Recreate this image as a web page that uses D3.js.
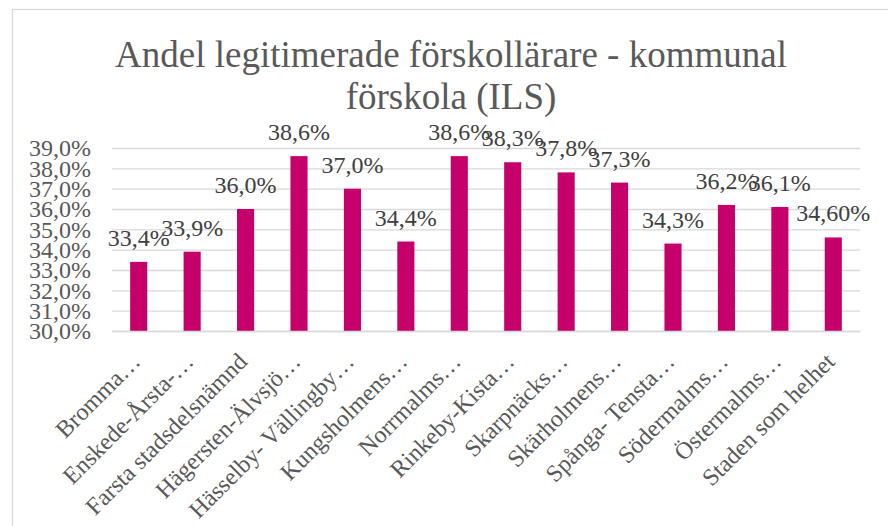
<!DOCTYPE html>
<html>
<head>
  <meta charset="UTF-8">
  <title>Andel legitimerade förskollärare - kommunal förskola (ILS)</title>
  <style>
    body { margin: 0; background: #fff; }
  </style>
</head>
<body>
  <div id="chart"></div>
  <script src="https://d3js.org/d3.v7.min.js"></script>
  <script>
    // data
    const categories = ['Bromma…', 'Enskede-Årsta-…', 'Farsta stadsdelsnämnd', 'Hägersten-Älvsjö…',
      'Hässelby- Vällingby…', 'Kungsholmens…', 'Norrmalms…', 'Rinkeby-Kista…', 'Skarpnäcks…',
      'Skärholmens…', 'Spånga- Tensta…', 'Södermalms…', 'Östermalms…', 'Staden som helhet'];
    const values = [33.4, 33.9, 36.0, 38.6, 37.0, 34.4, 38.6, 38.3, 37.8, 37.3, 34.3, 36.2, 36.1, 34.6];
    const valueLabels = ['33,4%', '33,9%', '36,0%', '38,6%', '37,0%', '34,4%', '38,6%', '38,3%',
      '37,8%', '37,3%', '34,3%', '36,2%', '36,1%', '34,60%'];
    const yTicks = [30, 31, 32, 33, 34, 35, 36, 37, 38, 39];
    const titleLines = ['Andel legitimerade förskollärare - kommunal', 'förskola (ILS)'];

    const W = 888, H = 526;
    const plot = { left: 112, right: 860, top: 148, bottom: 331 };
    const serif = 'Liberation Serif';
    const grey = '#595959';

    const svg = d3.select('#chart').append('svg')
      .attr('width', W).attr('height', H);

    // chart frame
    svg.append('rect')
      .attr('x', 12.5).attr('y', 9.5)
      .attr('width', 900).attr('height', 540)
      .attr('fill', 'none').attr('stroke', '#d9d9d9').attr('stroke-width', 1.3);

    // title
    titleLines.forEach((t, i) => {
      svg.append('text')
        .attr('x', 451).attr('y', 67 + i * 42)
        .attr('text-anchor', 'middle')
        .attr('fill', grey)
        .attr('font-family', serif)
        .attr('font-size', 37)
        .text(t);
    });

    const x = d3.scaleBand()
      .domain(categories)
      .range([plot.left, plot.right])
      .paddingInner(0.68)
      .paddingOuter(0.34);

    const y = d3.scaleLinear()
      .domain([30, 39])
      .range([plot.bottom, plot.top]);

    const sv = d3.formatLocale({ decimal: ',', thousands: ' ', grouping: [3], currency: ['', ' kr'] });
    const fmt = d => sv.format('.1f')(d) + '%';

    // gridlines
    const grid = svg.append('g')
      .attr('transform', `translate(${plot.left},0)`)
      .call(d3.axisLeft(y).tickValues(yTicks).tickSize(-(plot.right - plot.left)).tickFormat(''));
    grid.select('.domain').remove();
    grid.selectAll('line').attr('stroke', '#d9d9d9').attr('stroke-width', 1.3);

    // y axis labels
    const yAxis = svg.append('g')
      .attr('transform', `translate(${plot.left},0)`)
      .call(d3.axisLeft(y).tickValues(yTicks).tickSize(0).tickPadding(21).tickFormat(fmt));
    yAxis.select('.domain').remove();
    yAxis.selectAll('text')
      .attr('font-family', serif)
      .attr('font-size', 24)
      .attr('fill', grey);

    // bars
    svg.append('g')
      .selectAll('rect')
      .data(values)
      .enter().append('rect')
      .attr('x', (d, i) => x(categories[i]))
      .attr('y', d => y(d))
      .attr('width', x.bandwidth())
      .attr('height', d => y(30) - y(d))
      .attr('fill', '#c6006a');

    // value labels
    svg.append('g')
      .selectAll('text')
      .data(values)
      .enter().append('text')
      .attr('x', (d, i) => x(categories[i]) + x.bandwidth() / 2)
      .attr('y', d => y(d) - 16)
      .attr('text-anchor', 'middle')
      .attr('fill', '#404040')
      .attr('font-family', serif)
      .attr('font-size', 24)
      .text((d, i) => valueLabels[i]);

    // x axis
    const xAxis = svg.append('g')
      .attr('transform', `translate(0,${plot.bottom})`)
      .call(d3.axisBottom(x).tickSize(0).tickPadding(0));
    xAxis.select('.domain').attr('stroke', '#d9d9d9').attr('stroke-width', 1.3);
    xAxis.selectAll('text')
      .attr('font-family', serif)
      .attr('font-size', 24)
      .attr('fill', grey)
      .attr('text-anchor', 'end')
      .attr('dy', '0.35em')
      .attr('transform', 'translate(-3,26) rotate(-45)');
  </script>
</body>
</html>
